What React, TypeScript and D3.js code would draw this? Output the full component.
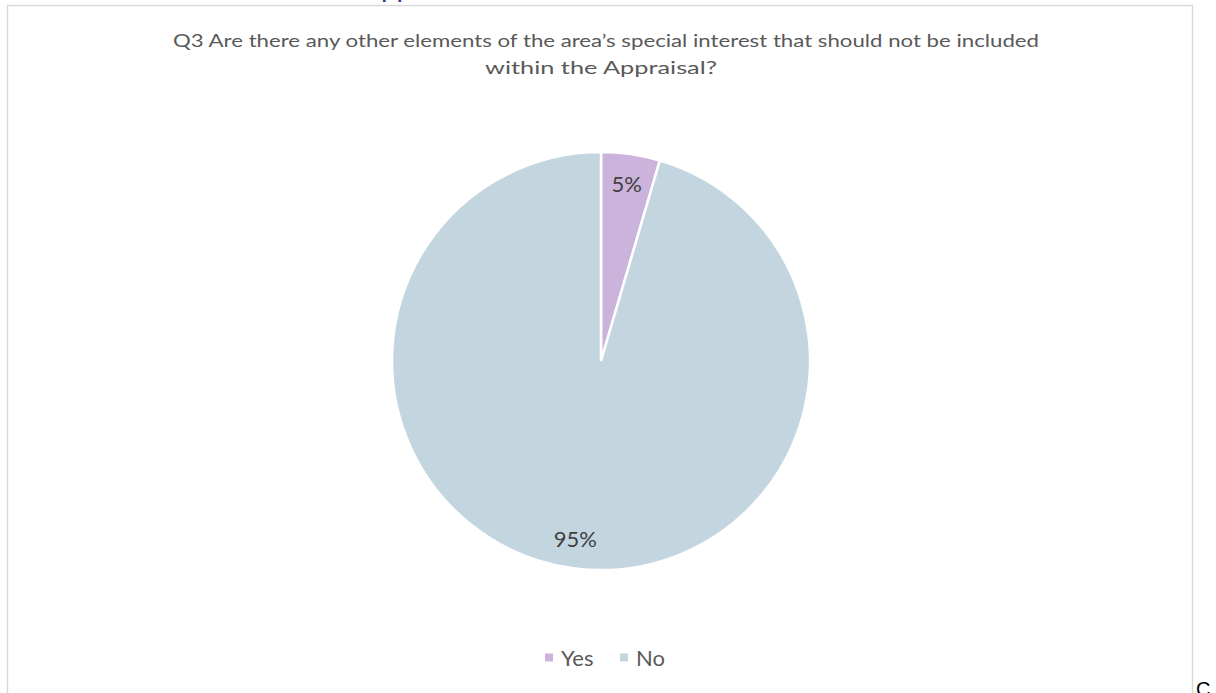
import React from "react";
import * as d3 from "d3";

const categories = ["Yes", "No"];
const counts = [1, 21];
const colors = ["#cbb3dc", "#c3d5df"];
const titleLines = [
  "Q3 Are there any other elements of the area\u2019s special interest that should not be included",
  "within the Appraisal?",
];

const W = 1216;
const H = 693;
const FONT = "Lato, 'Open Sans', sans-serif";

export default function App() {
  const cx = 601;
  const cy = 361;
  const R = 209;
  const data = categories.map((c, i) => ({ name: c, value: counts[i], color: colors[i] }));
  const total = d3.sum(counts);
  const pie = d3.pie<any>().value((d) => d.value).sort(null);
  const arcs = pie(data);
  const arc = d3.arc<any>().innerRadius(0).outerRadius(R);
  const labelArc = d3.arc<any>().innerRadius(R * 0.86).outerRadius(R * 0.86);
  const fmt = (v: number) => `${Math.round((v / total) * 100)}%`;

  return (
    <svg
      width={W}
      height={H}
      style={{ position: "absolute", left: 0, top: 0, background: "#fff" }}
    >
      <text x={362} y={-3} fontFamily={FONT} fontSize={28} fill="#33338a">
        Appraisal
      </text>
      <rect x={7.5} y={5.5} width={1185} height={720} fill="none" stroke="#d9d9d9" strokeWidth={1.5} />
      <text x={1196} y={696} fontFamily="'Liberation Sans', Arial, sans-serif" fontSize={20} fill="#000">
        C
      </text>
      <text fontFamily={FONT} fontSize={18} fill="#595959" textAnchor="middle">
        <tspan x={606} y={46.5} textLength={866} lengthAdjust="spacingAndGlyphs">{titleLines[0]}</tspan>
        <tspan x={601} y={73.5} textLength={232} lengthAdjust="spacingAndGlyphs">{titleLines[1]}</tspan>
      </text>
      <g transform={`translate(${cx},${cy})`}>
        {arcs.map((a, i) => (
          <path key={i} d={arc(a) as string} fill={a.data.color} stroke="#fff" strokeWidth={2.5} />
        ))}
        {arcs.map((a, i) => {
          const [x, y] = labelArc.centroid(a);
          return (
            <text
              key={"l" + i}
              x={x}
              y={y}
              textAnchor="middle"
              dominantBaseline="central"
              fontFamily={FONT}
              fontSize={22}
              fill="#404040"
            >
              {fmt(a.data.value)}
            </text>
          );
        })}
      </g>
      <g fontFamily={FONT} fontSize={22} fill="#595959">
        <rect x={545} y={653.5} width={8} height={8} fill={colors[0]} />
        <text x={561} y={666}>{categories[0]}</text>
        <rect x={620} y={653.5} width={8} height={8} fill={colors[1]} />
        <text x={636} y={666}>{categories[1]}</text>
      </g>
    </svg>
  );
}
